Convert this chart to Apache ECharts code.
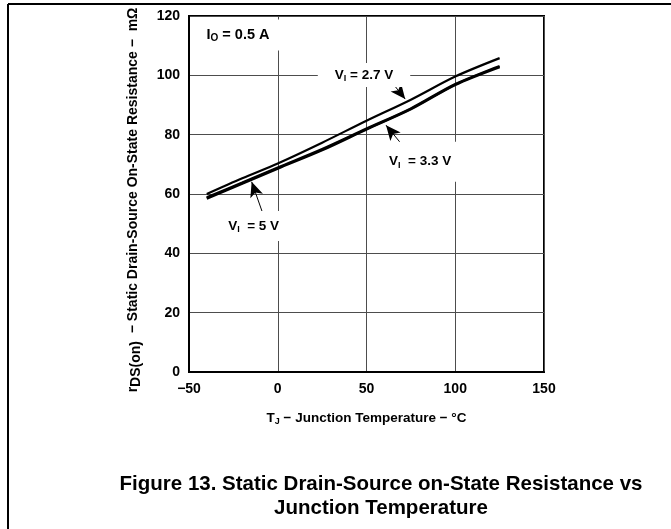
<!DOCTYPE html>
<html>
<head>
<meta charset="utf-8">
<script src="https://cdn.jsdelivr.net/npm/echarts@6/dist/echarts.min.js"></script>
<style>
  html, body { margin: 0; padding: 0; background: #fff; }
  #main { width: 671px; height: 529px; }
</style>
</head>
<body>
<div id="main"></div>
<script>
// junction temperature (°C) and rDS(on) (mOhm)
const temps = [-40, -20, 0, 25, 50, 75, 100, 125];
const rds27 = [60.0, 65.3, 70.3, 77.3, 84.7, 91.8, 99.6, 105.8];
const rds33 = [58.5, 63.5, 68.6, 74.8, 81.8, 88.6, 96.8, 102.8];
const rds50 = [58.8, 63.8, 68.9, 75.1, 82.0, 88.8, 97.0, 103.1];

const xTicks = [-50, 0, 50, 100, 150];
const yTicks = [0, 20, 40, 60, 80, 100, 120];

// annotation anchors in data units [T, R]
const labelIo = [-22.4, 113.6];
const label27 = [48.6, 100.1];
const label33 = [80.2, 70.9];
const label50 = [-13.6, 49.2];
const arrow27 = [[63.7, 98.1], [71.8, 92.0]];
const arrow33 = [[75.5, 72.6], [61.0, 83.2]];
const arrow50 = [[-8.1, 52.9], [-14.7, 64.1]];

const FONT = 'Liberation Sans, Arial, sans-serif';

const pairs = (ys) => temps.map((t, i) => [t, ys[i]]);

function richText(size) {
  return {
    n: { fontFamily: FONT, fontWeight: 'bold', fontSize: size, color: '#000' },
    s: { fontFamily: FONT, fontWeight: 'bold', fontSize: Math.round(size * 0.7), color: '#000', padding: [7, 0, 0, 0] }
  };
}

function boxLabel(coord, text, padding, size) {
  return {
    coord: coord,
    symbol: 'circle',
    symbolSize: 0,
    label: {
      show: true,
      position: 'inside',
      formatter: text,
      backgroundColor: '#fff',
      padding: padding,
      rich: richText(size)
    }
  };
}

function arrowLine(seg) {
  return [{ coord: seg[0] }, { coord: seg[1] }];
}

const arrowStyle = {
  silent: true,
  symbol: ['none', 'arrow'],
  symbolSize: [10, 15],
  label: { show: false },
  lineStyle: { color: '#000', width: 1, type: 'solid' },
  animation: false
};

const chart = echarts.init(document.getElementById('main'));

const option = {
  animation: false,
  backgroundColor: '#fff',
  grid: {
    left: 189, right: 127, top: 16, bottom: 157,
    show: true, borderColor: '#000', borderWidth: 2, backgroundColor: 'transparent'
  },
  xAxis: {
    type: 'value',
    min: -50, max: 150, interval: 50,
    name: '{n|T}{s|J}{n| − Junction Temperature − °C}',
    nameLocation: 'middle',
    nameGap: 38,
    nameTextStyle: { rich: richText(13.5) },
    axisLine: { show: true, onZero: false, lineStyle: { color: '#000', width: 2 } },
    axisTick: { show: false },
    axisLabel: {
      margin: 10,
      fontFamily: FONT, fontWeight: 'bold', fontSize: 14, color: '#000',
      formatter: (v) => xTicks.includes(v) ? String(v).replace('-', '−') : ''
    },
    splitLine: { show: true, lineStyle: { color: '#4d4d4d', width: 1 } }
  },
  yAxis: {
    type: 'value',
    min: 0, max: 120, interval: 20,
    name: '{r|r}{d|DS(on)}{n|  − Static Drain-Source On-State Resistance −  mΩ}',
    nameLocation: 'middle',
    nameRotate: 90,
    nameGap: 46,
    nameTextStyle: {
      padding: [0, 12, 0, 0],
      rich: {
        r: { fontFamily: FONT, fontWeight: 'bold', fontSize: 14, color: '#000' },
        d: { fontFamily: FONT, fontWeight: 'bold', fontSize: 14, color: '#000', padding: [6, 0, 0, 0] },
        n: { fontFamily: FONT, fontWeight: 'bold', fontSize: 14, color: '#000' }
      }
    },
    axisLine: { show: true, onZero: false, lineStyle: { color: '#000', width: 2 } },
    axisTick: { show: false },
    axisLabel: {
      margin: 9,
      fontFamily: FONT, fontWeight: 'bold', fontSize: 14, color: '#000',
      formatter: (v) => yTicks.includes(v) ? String(v) : ''
    },
    splitLine: { show: true, lineStyle: { color: '#4d4d4d', width: 1 } }
  },
  graphic: [
    { type: 'line', shape: { x1: 8, y1: 4, x2: 671, y2: 4 }, style: { stroke: '#000', lineWidth: 2 } },
    { type: 'line', shape: { x1: 8, y1: 4, x2: 8, y2: 529 }, style: { stroke: '#000', lineWidth: 2 } },
    {
      type: 'text', x: 381, y: 472,
      style: {
        text: 'Figure 13. Static Drain-Source on-State Resistance vs\nJunction Temperature',
        fontFamily: FONT, fontWeight: 'bold', fontSize: 20.5, lineHeight: 24,
        textAlign: 'center', fill: '#000'
      }
    }
  ],
  series: [
    {
      name: 'VI = 2.7 V',
      type: 'line',
      data: pairs(rds27),
      smooth: 0.3,
      showSymbol: false,
      lineStyle: { color: '#000', width: 2.2 },
      z: 3,
      markPoint: {
        silent: true,
        data: [
          boxLabel(labelIo, '{n|I}{s|O}{n| = 0.5 A}', [7, 10, 7, 10], 14.5),
          boxLabel(label27, '{n|V}{s|I}{n| = 2.7 V}', [4, 17, 4, 17], 13.5)
        ]
      },
      markLine: Object.assign({ data: [arrowLine(arrow27)] }, arrowStyle)
    },
    {
      name: 'VI = 3.3 V',
      type: 'line',
      data: pairs(rds33),
      smooth: 0.3,
      showSymbol: false,
      lineStyle: { color: '#000', width: 2.6 },
      z: 3,
      markPoint: {
        silent: true,
        data: [boxLabel(label33, '{n|V}{s|I}{n|  = 3.3 V}', [12, 7, 12, 7], 13.5)]
      },
      markLine: Object.assign({ data: [arrowLine(arrow33)] }, arrowStyle)
    },
    {
      name: 'VI = 5 V',
      type: 'line',
      data: pairs(rds50),
      smooth: 0.3,
      showSymbol: false,
      lineStyle: { color: '#000', width: 2.6 },
      z: 3,
      markPoint: {
        silent: true,
        data: [boxLabel(label50, '{n|V}{s|I}{n|  = 5 V}', [7, 7, 7, 7], 13.5)]
      },
      markLine: Object.assign({ data: [arrowLine(arrow50)] }, arrowStyle)
    }
  ]
};

chart.setOption(option);
</script>
</body>
</html>
